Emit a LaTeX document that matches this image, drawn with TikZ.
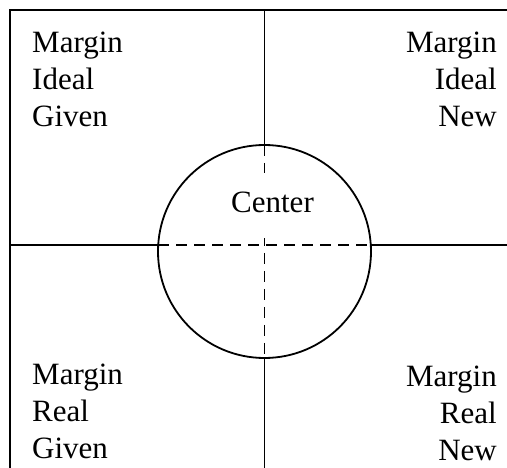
\documentclass[tikz,border=0pt]{standalone}
\usepackage{fontspec}
\setmainfont{Liberation Serif}
\begin{document}
\begin{tikzpicture}[x=1pt, y=-1pt, every node/.style={font=\fontsize{31}{37}\selectfont, inner sep=0pt}, frame/.style={line width=2.4pt}, axis/.style={line width=1.8pt}, inner/.style={line width=1.8pt, dash pattern=on 11pt off 7pt}]
	\useasboundingbox (0,0) rectangle (507,468);
	\draw[frame] (10,468) -- (10,10) -- (507,10);
	\node[draw, circle, line width=1.8pt, minimum size=213pt] (c) at (264.5,251.5) {};
	% where the cross meets the circle
	\coordinate (cw) at (158.2,245);
	\coordinate (ce) at (370.8,245);
	\coordinate (cn) at (264.5,145);
	\coordinate (cs) at (264.5,358);
	\coordinate (w) at (10,245);
	\coordinate (e) at (507,245);
	\coordinate (n) at (264.5,10);
	\coordinate (s) at (264.5,468);
	\draw[axis] (w) -- (cw) (ce) -- (e);
	\draw[axis] (n) -- (cn) (cs) -- (s);
	\draw[inner] (cw) -- (ce);
	\draw[inner] (cn) -- (cs);
	\node[fill=white, text height=40pt, text depth=25pt, anchor=base] (ctr) at (272.5,213) {Center};
	\node[align=left, anchor=north west] (ig) at (32,32) {Margin\\Ideal\\Given};
	\node[align=right, anchor=north east] (in) at (497,32) {Margin\\Ideal\\New};
	\node[align=left, anchor=north west] (rg) at (32,364) {Margin\\Real\\Given};
	\node[align=right, anchor=north east] (rn) at (497,366) {Margin\\Real\\New};
\end{tikzpicture}
\end{document}
